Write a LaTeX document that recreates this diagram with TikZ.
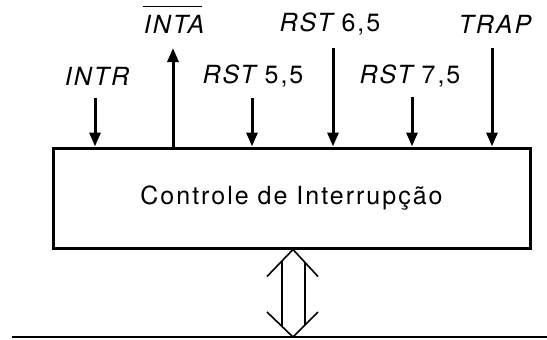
\documentclass[tikz,border=0pt]{standalone}
\usepackage{fontspec}
\setmainfont{TeX Gyre Heros}[LetterSpace=8]
\usetikzlibrary{arrows.meta,positioning}

\begin{document}
\begin{tikzpicture}[x=0.5pt,y=-0.5pt,
    sig/.style={line width=1.5pt,-{Triangle[length=7pt,width=5.5pt]}},
    lab/.style={inner sep=0pt,font=\fontsize{12.5}{15}\selectfont}]
  \useasboundingbox (0,0) rectangle (547,339);
  % bloco
  \node[draw,line width=1.5pt,minimum width=238.5pt,minimum height=50pt,
        font=\fontsize{12.5}{15}\selectfont] (ctl) at (291.5,198) {Controle de Interrup\c{c}\~ao};
  % rotulos dos sinais
  \node[lab] (intr) at (97,76) {\itshape INTR};
  \node[lab] (inta) at (174,24) {\itshape INTA};
  \node[lab] (rst55) at (253,76) {{\itshape RST} 5,5};
  \node[lab] (rst65) at (330,24) {{\itshape RST} 6,5};
  \node[lab] (rst75) at (410,76) {{\itshape RST} 7,5};
  \node[lab] (trap) at (495,24) {\itshape TRAP};
  \draw[line width=0.75pt] ([yshift=4pt]inta.north west) -- ([yshift=4pt,xshift=-1.5pt]inta.north east);
  % pontos de partida das setas
  \coordinate (intrs) at (95,98);
  \coordinate (intas) at (173,48);
  \coordinate (rst55s) at (252,98);
  \coordinate (rst65s) at (333,48);
  \coordinate (rst75s) at (412,97);
  \coordinate (traps) at (492,48);
  \draw[sig] (intrs) -- (intrs |- ctl.north);
  \draw[sig] (intas |- ctl.north) -- (intas);
  \draw[sig] (rst55s) -- (rst55s |- ctl.north);
  \draw[sig] (rst65s) -- (rst65s |- ctl.north);
  \draw[sig] (rst75s) -- (rst75s |- ctl.north);
  \draw[sig] (traps) -- (traps |- ctl.north);
  % barramento
  \coordinate (busl) at (12,337);
  \coordinate (busr) at (547,337);
  \draw[line width=1.2pt] (busl) -- (busr);
  % seta dupla
  \coordinate (dx) at (293,0);
  \coordinate (dtop) at (dx |- ctl.south);
  \coordinate (dbot) at (dx |- busl);
  \begin{scope}[line width=0.8pt]
    \draw ([shift={(-26,27)}]dtop) -- (dtop) -- ([shift={(25,27)}]dtop);
    \draw ([shift={(-11,11)}]dtop) -- ([shift={(-11,-11)}]dbot);
    \draw ([shift={(12,12)}]dtop) -- ([shift={(12,-12)}]dbot);
    \draw ([shift={(-26,-25)}]dbot) -- (dbot) -- ([shift={(25,-25)}]dbot);
  \end{scope}
\end{tikzpicture}
\end{document}
